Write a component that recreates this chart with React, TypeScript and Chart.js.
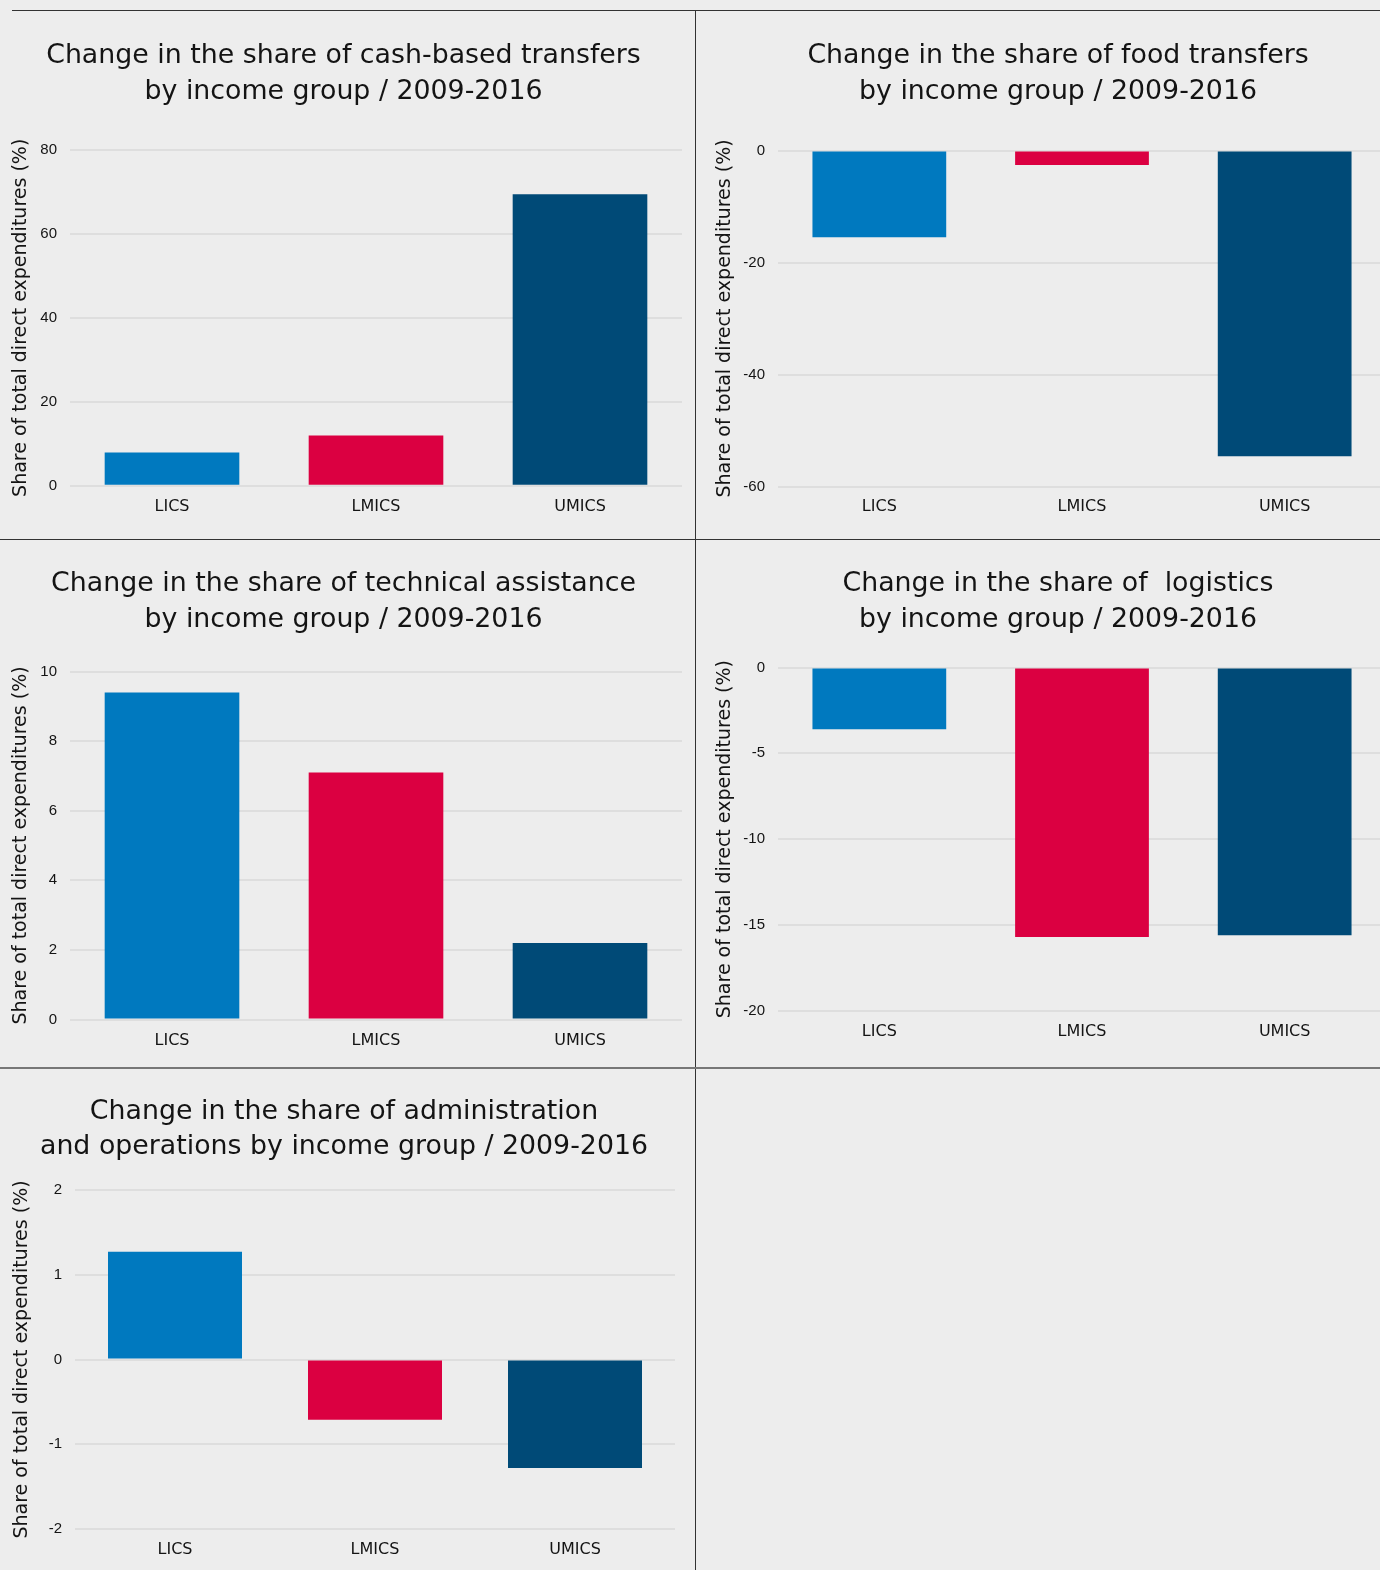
import React, { useEffect, useRef } from 'react';
import { Chart, registerables } from 'chart.js';

Chart.register(...registerables);

// ---------- data ----------
const categories = ['LICS', 'LMICS', 'UMICS'];
const barColors = ['#0079BF', '#DB0041', '#004A77'];

const cashValues = [7.9, 12.0, 69.4];
const foodValues = [-15.5, -2.6, -54.6];
const techValues = [9.4, 7.1, 2.2];
const logisticsValues = [-3.6, -15.7, -15.6];
const adminValues = [1.27, -0.71, -1.28];

const cashTitle = ['Change in the share of cash-based transfers', 'by income group / 2009-2016'];
const foodTitle = ['Change in the share of food transfers', 'by income group / 2009-2016'];
const techTitle = ['Change in the share of technical assistance', 'by income group / 2009-2016'];
const logisticsTitle = ['Change in the share of  logistics', 'by income group / 2009-2016'];
const adminTitle = ['Change in the share of administration', 'and operations by income group / 2009-2016'];

const yAxisTitle = 'Share of total direct expenditures (%)';

const cashRange = [0, 80, 20];
const foodRange = [-60, 0, 20];
const techRange = [0, 10, 2];
const logisticsRange = [-20, 0, 5];
const adminRange = [-2, 2, 1];

// ---------- layout per panel ----------
type PanelCfg = {
  values: number[];
  title: string[];
  range: number[];
  left: number; top: number; width: number; height: number;
  padL: number; padR: number;
  yAxisW: number; xAxisH: number;
  titleLH: number; titlePadTop: number; titlePadBottom: number;
  axisTitlePad: number; labelPad: number;
  barPct: number;
};

const TEXT = '#141414';
const TITLE_SIZE = 26.8;

function Panel({ cfg }: { cfg: PanelCfg }) {
  const ref = useRef<HTMLCanvasElement | null>(null);
  useEffect(() => {
    if (!ref.current) return;
    const chart = new Chart(ref.current, {
      type: 'bar',
      data: {
        labels: categories,
        datasets: [
          {
            data: cfg.values,
            backgroundColor: barColors,
            borderWidth: 0,
            barPercentage: cfg.barPct,
            categoryPercentage: 1,
          },
        ],
      },
      options: {
        responsive: false,
        animation: false,
        layout: { padding: { left: cfg.padL, right: cfg.padR, top: 0, bottom: 0 } },
        plugins: {
          legend: { display: false },
          tooltip: { enabled: false },
          title: {
            display: true,
            text: cfg.title,
            color: TEXT,
            font: { family: 'DejaVu Sans', size: TITLE_SIZE, weight: 'normal', lineHeight: cfg.titleLH / TITLE_SIZE },
            padding: { top: cfg.titlePadTop, bottom: cfg.titlePadBottom },
          },
        },
        scales: {
          x: {
            grid: { display: false, drawTicks: false },
            border: { display: false },
            ticks: {
              color: TEXT,
              font: { family: 'DejaVu Sans', size: 16 },
              padding: cfg.labelPad,
            },
            afterFit: (s: any) => {
              s.height = cfg.xAxisH;
            },
          },
          y: {
            min: cfg.range[0],
            max: cfg.range[1],
            ticks: {
              stepSize: cfg.range[2],
              padding: 13,
              color: TEXT,
              font: { family: 'Liberation Sans', size: 15 },
            },
            grid: { color: '#dedede', lineWidth: 2, drawTicks: false },
            border: { display: false },
            title: {
              display: true,
              text: yAxisTitle,
              color: TEXT,
              font: { family: 'DejaVu Sans', size: 19 },
              padding: { top: cfg.axisTitlePad, bottom: 0 },
            },
            afterFit: (s: any) => {
              s.width = cfg.yAxisW;
            },
          },
        },
      } as any,
    });
    return () => chart.destroy();
  }, [cfg]);
  return (
    <canvas
      ref={ref}
      width={cfg.width}
      height={cfg.height}
      style={{ position: 'absolute', left: cfg.left, top: cfg.top, width: cfg.width, height: cfg.height }}
    />
  );
}

const panels: PanelCfg[] = [
  {
    values: cashValues, title: cashTitle, range: cashRange,
    left: 0, top: 11, width: 694, height: 528,
    padL: 5, padR: 12, yAxisW: 65, xAxisH: 53.2,
    titleLH: 36, titlePadTop: 27, titlePadBottom: 39.8,
    axisTitlePad: 4.6, labelPad: 11.6, barPct: 0.66,
  },
  {
    values: foodValues, title: foodTitle, range: foodRange,
    left: 697, top: 11, width: 691, height: 528,
    padL: 33, padR: 2, yAxisW: 48, xAxisH: 52.5,
    titleLH: 36, titlePadTop: 27, titlePadBottom: 40.5,
    axisTitlePad: -16.4, labelPad: 10.9, barPct: 0.66,
  },
  {
    values: techValues, title: techTitle, range: techRange,
    left: 0, top: 540, width: 694, height: 527,
    padL: 5, padR: 12, yAxisW: 65, xAxisH: 47.5,
    titleLH: 36, titlePadTop: 26, titlePadBottom: 33.5,
    axisTitlePad: 4.6, labelPad: 11.9, barPct: 0.66,
  },
  {
    values: logisticsValues, title: logisticsTitle, range: logisticsRange,
    left: 697, top: 540, width: 691, height: 527,
    padL: 33, padR: 2, yAxisW: 48, xAxisH: 56.2,
    titleLH: 36, titlePadTop: 26, titlePadBottom: 29.5,
    axisTitlePad: -16.4, labelPad: 11.6, barPct: 0.66,
  },
  {
    values: adminValues, title: adminTitle, range: adminRange,
    left: 0, top: 1069, width: 694, height: 501,
    padL: 13, padR: 19, yAxisW: 62, xAxisH: 41,
    titleLH: 35, titlePadTop: 25.5, titlePadBottom: 25.5,
    axisTitlePad: -2.4, labelPad: 11.4, barPct: 0.67,
  },
];

export default function App() {
  return (
    <div
      style={{
        position: 'absolute',
        left: 0,
        top: 0,
        width: 1380,
        height: 1570,
        background: '#ededed',
        overflow: 'hidden',
      }}
    >
      {panels.map((p, i) => (
        <Panel key={i} cfg={p} />
      ))}
      <div style={{ position: 'absolute', left: 12, top: 10, width: 1368, height: 1, background: '#333' }} />
      <div style={{ position: 'absolute', left: 695, top: 10, width: 1, height: 1560, background: '#333' }} />
      <div style={{ position: 'absolute', left: 0, top: 539, width: 1380, height: 1, background: '#333' }} />
      <div style={{ position: 'absolute', left: 0, top: 1067, width: 1380, height: 2, background: '#777' }} />
    </div>
  );
}
